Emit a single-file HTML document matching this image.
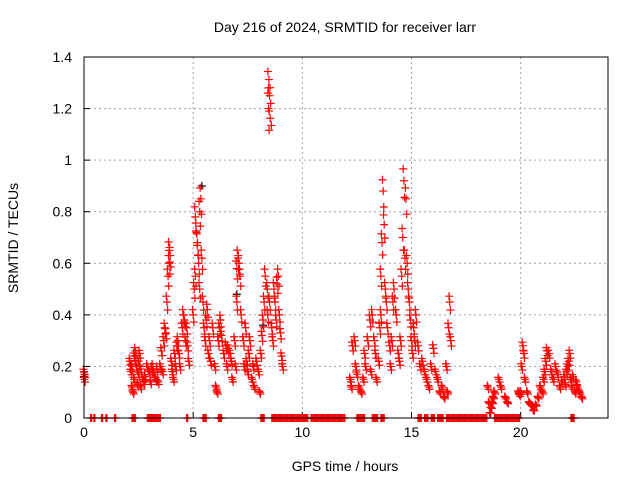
<!DOCTYPE html>
<html><head><meta charset="utf-8"><style>
body{margin:0;background:#fff}
svg{display:block;font-family:"Liberation Sans",sans-serif}
</style></head><body>
<svg id="chart" width="640" height="480">
<rect width="640" height="480" fill="#fff"/>
<text x="345" y="32" font-size="14" text-anchor="middle">Day 216 of 2024, SRMTID for receiver larr</text>
<text x="345" y="471" font-size="14" text-anchor="middle">GPS time / hours</text>
<text x="18" y="238" font-size="14" text-anchor="middle" transform="rotate(-90 18 238)">SRMTID / TECUs</text>
<g id="grid"></g>
<g id="ticks"></g>
<g id="marks"></g>
<rect x="84" y="57" width="524" height="361" fill="none" stroke="#000" stroke-width="1"/>
</svg>
<script>
const xTicks=[0,5,10,15,20];
const yTicks=[0,0.2,0.4,0.6,0.8,1,1.2,1.4];
const yTickLabels=["0","0.2","0.4","0.6","0.8","1","1.2","1.4"];
const redHours=[0,0.02,0.03,
2.1,2.15,2.2,2.2,2.25,2.3,2.3,2.35,2.4,2.45,2.5,2.5,2.55,2.6,2.6,2.7,2.75,2.8,2.9,3.0,3.05,3.1,3.15,3.2,3.3,3.35,3.4,
3.5,3.55,3.6,3.65,3.7,3.75,3.8,3.85,3.9,3.9,3.95,4.0,4.05,4.1,4.15,4.2,4.25,4.3,4.35,4.4,4.5,4.55,4.6,4.65,4.7,4.75,4.8,
5.0,5.05,5.1,5.1,5.15,5.2,5.25,5.3,5.3,5.35,5.4,5.45,5.5,5.55,5.6,5.65,5.7,5.75,5.8,5.9,6.0,6.05,6.1,6.15,6.2,6.25,6.3,
6.4,6.5,6.55,6.6,6.7,6.75,6.8,6.9,6.95,7.0,7.0,7.05,7.1,7.15,7.2,7.3,7.35,7.4,7.45,7.5,7.55,7.6,7.7,7.75,7.8,7.9,8.0,
8.05,8.1,8.15,8.2,8.25,8.3,8.4,8.42,8.45,8.45,8.5,8.5,8.55,8.6,8.65,8.7,8.75,8.8,8.85,8.9,8.95,9.0,9.05,9.1,
12.2,12.25,12.3,12.4,12.45,12.5,12.6,12.7,12.8,12.85,12.9,13.0,13.1,13.15,13.2,13.3,13.35,13.4,13.5,13.55,13.6,13.6,13.65,13.7,13.75,13.8,13.85,
13.9,14.0,14.05,14.1,14.15,14.2,14.3,14.4,14.45,14.5,14.55,14.6,14.65,14.7,14.75,14.8,14.85,14.9,14.95,15.0,15.05,15.1,15.15,15.2,15.3,15.4,15.5,
15.6,15.7,15.8,15.9,16.0,16.1,16.2,16.3,16.4,16.5,16.6,16.65,16.7,16.75,16.8,
18.5,18.55,18.6,18.65,18.7,18.75,18.8,19.0,19.1,19.3,19.4,19.9,19.95,20.0,20.05,20.1,20.15,20.2,20.3,20.4,20.5,20.6,20.7,20.8,20.9,21.0,21.05,21.1,21.15,21.2,
21.3,21.4,21.5,21.6,21.7,21.8,21.9,22.0,22.05,22.1,22.15,22.2,22.25,22.3,22.35,22.4,22.5,22.55,22.6,22.7,22.8];
const redValues=[0.18,0.15,0.17,
0.22,0.18,0.12,0.2,0.1,0.24,0.15,0.26,0.2,0.13,0.17,0.22,0.25,0.12,0.19,0.15,0.14,0.16,0.2,0.18,0.14,0.19,0.2,0.17,0.15,0.19,0.14,
0.2,0.26,0.18,0.3,0.35,0.33,0.45,0.55,0.6,0.65,0.63,0.22,0.18,0.15,0.25,0.2,0.28,0.3,0.25,0.2,0.35,0.4,0.38,0.3,0.35,0.28,0.22,
0.4,0.5,0.55,0.78,0.72,0.68,0.6,0.5,0.8,0.85,0.62,0.45,0.35,0.3,0.38,0.42,0.25,0.3,0.22,0.35,0.2,0.12,0.1,0.3,0.35,0.38,0.32,0.25,0.28,
0.2,0.27,0.25,0.22,0.15,0.3,0.2,0.45,0.58,0.62,0.6,0.55,0.4,0.3,0.2,0.35,0.22,0.18,0.25,0.3,0.15,0.2,0.12,0.22,0.18,0.1,0.25,
0.32,0.38,0.45,0.55,0.5,0.4,1.2,1.28,1.25,0.45,1.22,0.35,0.3,0.5,0.45,0.38,0.52,0.55,0.4,0.33,0.24,0.2,0.15,0.12,
0.28,0.3,0.2,0.17,0.12,0.1,0.15,0.25,0.2,0.3,0.38,0.18,0.4,0.3,0.25,0.15,0.22,0.35,0.4,0.55,0.68,0.88,0.75,0.5,0.45,0.35,0.28,
0.2,0.3,0.45,0.5,0.4,0.25,0.22,0.3,0.55,0.7,0.92,0.62,0.85,0.6,0.5,0.45,0.38,0.3,0.25,0.35,0.3,0.4,0.28,0.2,0.22,0.18,0.15,
0.12,0.2,0.27,0.18,0.15,0.1,0.12,0.08,0.2,0.1,0.35,0.45,0.3,0.12,0.06,
0.02,0.04,0.06,0.08,0.1,0.15,0.12,0.08,0.06,0.1,0.09,0.1,0.2,0.28,0.25,0.15,0.1,0.06,0.05,0.03,0.05,0.08,0.12,0.1,0.15,0.18,0.22,0.26,0.25,0.18,
0.15,0.2,0.17,0.12,0.14,0.16,0.13,0.18,0.2,0.22,0.25,0.15,0.12,0.16,0.1,0.14,0.12,0.1,0.08,0.13,0.09];
const zeroHours=[0.3,0.45,0.8,1.0,1.4,2.2,2.3,2.9,2.95,3.0,3.05,3.1,3.15,3.2,3.25,3.3,3.35,3.45,4.7,5.45,5.55,6.15,6.25,8.1,8.2,
8.6,8.7,8.8,8.9,9.0,9.1,9.2,9.3,9.4,9.5,9.6,9.7,9.8,9.9,10.0,10.1,10.2,10.4,10.5,10.6,10.7,10.8,10.9,11.0,11.1,11.2,11.3,11.4,11.5,11.6,11.7,11.8,11.9,
12.5,12.6,12.7,12.8,13.2,13.3,13.4,13.6,13.7,15.3,15.4,15.6,15.7,15.9,16.0,16.2,16.3,16.4,16.6,16.7,16.8,16.9,17.0,17.1,17.2,17.3,17.4,17.5,17.6,17.7,17.8,17.9,18.0,18.1,18.2,18.3,18.4,
18.8,18.9,19.0,19.1,19.2,19.3,19.4,19.5,19.6,19.7,19.8,19.9,22.3,22.4];
const blackHours=[0,5.4,7.0,8.2];
const blackValues=[0.16,0.9,0.48,0.36];

const X0=84,X1=608,Y0=418,Y1=57;
const xs=h=>X0+h*(X1-X0)/24;
const ys=v=>Y0-v*(Y0-Y1)/1.4;
const NS="http://www.w3.org/2000/svg";
const grid=document.getElementById('grid'),ticks=document.getElementById('ticks'),marks=document.getElementById('marks');
function mk(t,a,p){const e=document.createElementNS(NS,t);for(const k in a)e.setAttribute(k,a[k]);p.appendChild(e);return e;}
xTicks.forEach(t=>{
  const x=xs(t);
  if(t>0){const g=mk('line',{x1:x,x2:x,y1:Y1,y2:Y0,stroke:'#a0a0a0','stroke-dasharray':'2,3'},grid);
  
  }
  const l=mk('line',{x1:x,x2:x,y1:Y0,y2:Y0-6,stroke:'#000'},ticks);
  
  
  const tx=mk('text',{x:x,y:Y0+19,'font-size':14,'text-anchor':'middle'},ticks);tx.textContent=String(t);
  
  
});
yTicks.forEach((t,i)=>{
  const y=ys(t);
  if(t>0&&t<1.4){const g=mk('line',{x1:X0,x2:X1,y1:y,y2:y,stroke:'#a0a0a0','stroke-dasharray':'2,3'},grid);
  
  }
  const l=mk('line',{x1:X0,x2:X0+6,y1:y,y2:y,stroke:'#000'},ticks);
  
  
  const tx=mk('text',{x:X0-12,y:y+5,'font-size':14,'text-anchor':'end'},ticks);tx.textContent=yTickLabels[i];
  
  
});
function plus(h,v,c){
  const x=xs(h),y=ys(v);
  const p=mk('path',{d:`M${x-4},${y}H${x+4}M${x},${y-4}V${y+4}`,stroke:c,'stroke-width':1.2,fill:'none'},marks);
  
  
}
blackHours.forEach((h,i)=>plus(h,blackValues[i],'#000'));
redHours.forEach((h,i)=>{plus(h,redValues[i],'#f00');plus(h+0.03,redValues[i]*0.93,'#f00');plus(h-0.03,redValues[i]*1.05,'#f00');});
zeroHours.forEach(h=>{plus(h,0,'#f00');plus(h+0.05,0,'#f00');});
</script>
</body></html>
